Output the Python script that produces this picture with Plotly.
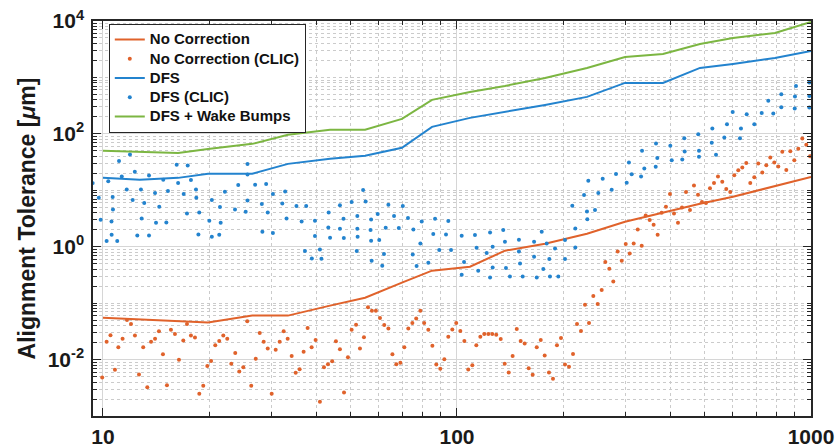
import plotly.graph_objects as go

# ---------------- data ----------------
line_x = [10, 12.7, 16.3, 19.8, 26.4, 33.3, 43.8, 55.0, 69.9, 85.0, 108.8, 136.6,
          177.3, 232.9, 298.3, 381.8, 485.8, 602, 791, 1000]
no_corr_y = [0.0553, 0.0511, 0.0471, 0.0452, 0.0601, 0.0601, 0.0903, 0.125, 0.231, 0.376,
             0.443, 0.85, 1.13, 1.70, 2.77, 4.0, 5.77, 7.67, 12.0, 17.3]
dfs_y = [16.6, 15.3, 16.6, 19.6, 19.6, 29.4, 36.1, 40.8, 56.5, 133, 192, 245, 326, 452,
         800, 800, 1473, 1734, 2213, 2944]
wake_y = [50.0, 48, 46, 54, 66.5, 96, 118, 118, 184, 400, 553, 707, 980, 1473, 2306,
          2607, 3917, 5000, 6137, 9600]

dfs_clic_x = [9.35, 9.73, 9.85, 10.24, 10.35, 10.58, 10.57, 10.65, 10.67, 10.97,
              11.1, 11.3, 11.67, 11.92, 12.13, 12.3, 12.5, 12.8, 12.86, 13.08,
              13.49, 13.49, 14.03, 14.12, 14.42, 14.8, 15.1, 15.26, 16.15, 16.3,
              16.9, 17.27, 17.35, 17.72, 18.31, 18.35, 18.6, 18.7, 19.97, 20.3,
              20.3, 21.3, 21.4, 21.5, 22.1, 23.6, 24.1, 25.3, 25.6, 25.6,
              25.6, 26.9, 28.1, 28.2, 28.9, 29.2, 30.2, 30.2, 32.1, 32.7,
              33.0, 35.2, 36.4, 37.2, 37.5, 38.9, 39.7, 39.7, 41.0, 41.4,
              43.4, 43.3, 43.8, 46.7, 47.8, 47.9, 46.7, 50.4, 52.1, 52.3,
              52.3, 52.4, 54.3, 55.2, 57.0, 57.2, 57.2, 57.4, 59.7, 60.3,
              61.5, 62.2, 62.9, 64.0, 66.4, 68.5, 70.3, 72.7, 75.0, 75.3,
              76.9, 78.8, 79.5, 83.0, 85.7, 86.7, 89.1, 93.1, 94.5, 96.2,
              103.1, 103.1, 104.7, 112.4, 113.6, 114.8, 121.3, 124.0, 124.0, 126.1,
              126.1, 135.1, 136.6, 137.5, 141.1, 149.6, 149.6, 150.7, 153.3, 165.1,
              165.1, 168.0, 173.5, 175.3, 179.2, 183.1, 182.3, 189.2, 193.3, 201.9,
              201.9, 211.7, 215.9, 215.9, 228.5, 232.9, 233.4, 234.9, 245.4, 250.7,
              258.0, 273.5, 281.3, 301.6, 306.0, 311.5, 331.1, 333.2, 338.2, 364.9,
              364.2, 368.0, 400.5, 404.2, 432.9, 438.6, 439.7, 480.4, 482.6, 482.6,
              524.3, 526.4, 539.1, 569.0, 579.0, 600.9, 630.0, 634.2, 658.2, 691.5,
              725.6, 757.5, 782.5, 824.3, 824.3, 899.5, 901.0, 907.0, 989.0, 989.0, 989.0]
dfs_clic_y = [13.4, 7.36, 3.0, 1.26, 14.4, 1.63, 2.80, 7.61, 4.55, 1.26,
              33.0, 17.5, 10.3, 43.0, 6.71, 21.2, 1.58, 10.3, 3.17, 5.93,
              18.3, 1.58, 8.92, 2.66, 5.10, 15.3, 2.69, 9.68, 28.3, 13.4,
              8.57, 3.88, 27.5, 15.2, 10.3, 7.36, 1.65, 4.05, 2.89, 6.71,
              1.50, 1.63, 5.04, 2.66, 9.40, 4.57, 12.4, 4.16, 29.1, 19.0,
              6.6, 12.5, 5.70, 1.84, 12.9, 4.05, 1.75, 8.57, 5.84, 9.52,
              3.17, 5.25, 2.80, 0.839, 5.25, 0.621, 2.89, 1.55, 0.896, 0.613,
              4.05, 2.20, 1.44, 5.43, 3.13, 1.43, 2.08, 6.18, 0.839, 3.49,
              2.08, 1.50, 10.1, 6.34, 1.98, 3.04, 1.28, 0.565, 3.79, 1.31,
              0.461, 0.743, 2.17, 5.54, 3.49, 2.14, 5.25, 3.22, 0.731, 2.02,
              0.455, 1.14, 2.80, 0.521, 1.68, 3.13, 0.874, 1.65, 2.85, 0.874,
              1.57, 0.319, 0.536, 1.61, 0.96, 0.376, 0.773, 1.79, 0.286, 1.0,
              0.430, 1.98, 1.23, 0.420, 0.298, 1.33, 0.826, 0.506, 0.298, 1.23,
              0.665, 0.286, 1.84, 0.403, 1.14, 0.298, 0.606, 0.933, 0.298, 0.606,
              1.31, 5.32, 2.11, 0.972, 8.22, 4.21, 3.07, 14.7, 4.46, 8.92,
              16.0, 10.2, 19.4, 13.6, 31.0, 19.2, 17.5, 50.0, 24.3, 67.3,
              26.1, 37.2, 61.3, 34.2, 35.1, 83.9, 48.6, 98.8, 50.0, 39.2,
              69.3, 124, 42.5, 86.0, 148.6, 245, 83.9, 124, 223, 148.6,
              235, 388, 229, 504, 297, 280, 457, 707, 809, 471, 292]

no_corr_clic_x = [9.95, 10.24, 10.5, 10.81, 11.05, 11.36, 11.69, 12.0, 12.31, 12.64,
                  12.99, 13.34, 13.67, 14.03, 14.39, 14.77, 15.16, 15.56, 15.97, 16.39,
                  16.86, 17.27, 17.72, 18.19, 18.71, 19.2, 19.71, 20.2, 20.76, 21.3,
                  21.87, 22.44, 23.04, 23.64, 24.27, 24.91, 25.56, 26.23, 27.01, 27.72,
                  28.44, 29.2, 29.96, 30.75, 31.56, 32.39, 33.24, 34.12, 35.02, 35.93,
                  36.88, 37.85, 38.85, 39.87, 41.0, 42.1, 43.2, 44.4, 45.5, 46.7,
                  47.96, 49.2, 50.4, 51.86, 53.2, 54.6, 56.05, 57.5, 59.0, 60.6,
                  62.3, 64.0, 65.7, 67.4, 69.2, 71.0, 72.85, 74.8, 76.7, 78.8,
                  80.8, 83.0, 85.2, 87.4, 89.7, 92.1, 94.5, 97.0, 99.5, 102.2,
                  104.9, 107.6, 110.5, 113.4, 116.4, 119.4, 122.6, 125.8, 129.1, 132.9,
                  136.4, 140.0, 143.6, 147.5, 151.3, 155.3, 159.4, 163.6, 168.0, 172.4,
                  176.9, 181.9, 186.7, 191.6, 196.7, 201.9, 207.2, 212.7, 218.3, 224.0,
                  229.9, 236.0, 242.7, 249.7, 256.3, 262.4, 269.3, 276.4, 284.4, 292.0,
                  299.7, 307.6, 315.6, 324.0, 332.5, 341.2, 350.2, 359.3, 368.8, 378.5,
                  389.3, 399.6, 410.2, 421.0, 432.1, 443.5, 455.1, 467.1, 479.5, 492.1,
                  505.1, 518.4, 532.1, 546.1, 561.5, 576.3, 591.5, 607.1, 623.1, 639.6,
                  656.4, 673.7, 691.5, 709.7, 728.5, 747.7, 767.4, 787.6, 808.4, 829.7,
                  851.6, 874.1, 897.1, 920.7, 944.9, 969.9, 993.6]
no_corr_clic_y = [0.0048, 0.0206, 0.0269, 0.00658, 0.0165, 0.0235, 0.0504, 0.0429, 0.0266, 0.00543,
                  0.0165, 0.00324, 0.0206, 0.0235, 0.0317, 0.0124, 0.00351, 0.0336, 0.0285, 0.00988,
                  0.0217, 0.0429, 0.0266, 0.0245, 0.00247, 0.00343, 0.00773, 0.00948, 0.0179, 0.0214,
                  0.0266, 0.0235, 0.00839, 0.0131, 0.00613, 0.00731, 0.0476, 0.00343, 0.0103, 0.0297,
                  0.0206, 0.0157, 0.00247, 0.0149, 0.0206, 0.0317, 0.0235, 0.0116, 0.00582, 0.00673,
                  0.0137, 0.0364, 0.0165, 0.0223, 0.00178, 0.00731, 0.00826, 0.00933, 0.0211, 0.0152,
                  0.00261, 0.0110, 0.0336, 0.0416, 0.0157, 0.0248, 0.0843, 0.0736, 0.0736, 0.0547,
                  0.0411, 0.0354, 0.0124, 0.00826, 0.00875, 0.0165, 0.0354, 0.0446, 0.0532, 0.0736,
                  0.0446, 0.0336, 0.0175, 0.00816, 0.00685, 0.0101, 0.0255, 0.0340, 0.0446, 0.0322,
                  0.0214, 0.00665, 0.00793, 0.0179, 0.0255, 0.0285, 0.0285, 0.0285, 0.0274, 0.0232,
                  0.00839, 0.00589, 0.0116, 0.0349, 0.0214, 0.0192, 0.00702, 0.00536, 0.0165, 0.0223,
                  0.0118, 0.00589, 0.00455, 0.0179, 0.0242, 0.00816, 0.00743, 0.0126, 0.0429, 0.0322,
                  0.0940, 0.0446, 0.134, 0.0968, 0.171, 0.536, 0.408, 0.243, 0.826, 0.565,
                  1.12, 0.761, 1.14, 2.02, 1.04, 3.58, 2.97, 2.45, 1.63, 4.0,
                  5.10, 8.57, 3.88, 2.66, 4.97, 9.29, 4.46, 12.2, 8.32, 6.18,
                  5.93, 10.9, 13.4, 17.5, 14.1, 10.5, 9.29, 18.4, 22.6, 25.3,
                  30.3, 13.4, 17.0, 29.8, 20.7, 27.9, 38.1, 31.0, 26.4, 48.0,
                  22.8, 49.4, 34.2, 54.3, 82.6, 63.8, 40.3]

series_names = ["No Correction", "No Correction (CLIC)", "DFS", "DFS (CLIC)", "DFS + Wake Bumps"]
x_tick_vals = [10, 100, 1000]
x_tick_text = ["10", "100", "1000"]
y_tick_vals = [1e-2, 1, 1e2, 1e4]
y_tick_text = ["<b>10<sup>-2</sup></b>", "<b>10<sup>0</sup></b>", "<b>10<sup>2</sup></b>", "<b>10<sup>4</sup></b>"]

# ---------------- styling ----------------
ORANGE = "#E0622B"
BLUE = "#2383CE"
GREEN = "#7CB642"
FONT = "Liberation Sans, Arial, Helvetica, sans-serif"
AX = "#262626"


def legend_label(s):
    # larger text than the legend's nominal size keeps entries tightly spaced
    return "<span style='font-size:15px'>" + s + "</span>"


x_minor = [k * 10 ** e for e in (0, 1, 2) for k in range(1, 10) if 9 <= k * 10 ** e <= 1000]
y_minor = [k * 10.0 ** e for e in range(-3, 4) for k in range(1, 10)] + [1e4]

fig = go.Figure()
fig.add_trace(go.Scatter(x=line_x, y=no_corr_y, mode="lines", name=legend_label(series_names[0]),
                         line=dict(color=ORANGE, width=2)))
fig.add_trace(go.Scatter(x=no_corr_clic_x, y=no_corr_clic_y, mode="markers",
                         name=legend_label(series_names[1]),
                         marker=dict(color=ORANGE, size=4)))
fig.add_trace(go.Scatter(x=line_x, y=dfs_y, mode="lines", name=legend_label(series_names[2]),
                         line=dict(color=BLUE, width=2)))
fig.add_trace(go.Scatter(x=dfs_clic_x, y=dfs_clic_y, mode="markers",
                         name=legend_label(series_names[3]),
                         marker=dict(color=BLUE, size=4)))
fig.add_trace(go.Scatter(x=line_x, y=wake_y, mode="lines", name=legend_label(series_names[4]),
                         line=dict(color=GREEN, width=2)))

axis_common = dict(
    showline=True, linecolor=AX, linewidth=1.5, mirror="allticks",
    ticks="inside", ticklen=8, tickwidth=1.2, tickcolor=AX,
    showgrid=True, gridcolor="#d6d6d6", gridwidth=1,
    zeroline=False, automargin=False,
    tickfont=dict(family=FONT, size=21, color="#1a1a1a", weight="bold"),
)

fig.update_xaxes(
    type="log", range=[0.9718, 3.0],
    tickmode="array", tickvals=x_tick_vals, ticktext=x_tick_text,
    ticklabelstandoff=1,
    minor=dict(tickvals=x_minor, ticks="inside", ticklen=4, tickcolor=AX,
               showgrid=True, gridcolor="#cbcbcb", griddash="dot", gridwidth=1),
    **axis_common,
)
fig.update_yaxes(
    type="log", range=[-3, 4],
    tickmode="array", tickvals=y_tick_vals, ticktext=y_tick_text,
    ticklabelstandoff=3,
    minor=dict(tickvals=y_minor, ticks="inside", ticklen=4, tickcolor=AX,
               showgrid=True, gridcolor="#cbcbcb", griddash="dot", gridwidth=1),
    title=dict(text="<b>Alignment Tolerance [<i>μ</i>m]</b>",
               font=dict(family=FONT, size=23, color="#1a1a1a"), standoff=6),
    **axis_common,
)

fig.update_layout(
    width=838, height=448,
    margin=dict(l=93, r=27, t=21, b=32),
    paper_bgcolor="white", plot_bgcolor="white",
    showlegend=True,
    legend=dict(
        x=0.022, y=0.993, xanchor="left", yanchor="top",
        bgcolor="white", bordercolor=AX, borderwidth=1,
        font=dict(family=FONT, size=12.5, color="#111", weight="bold"),
        itemwidth=30, tracegroupgap=0,
    ),
)

fig.write_html("out.html")
